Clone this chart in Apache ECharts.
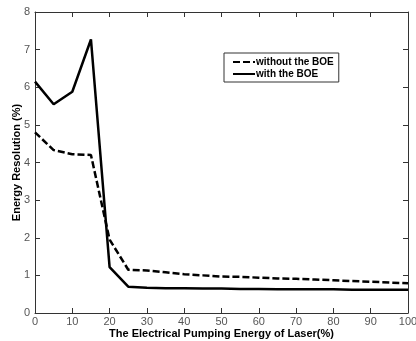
<!DOCTYPE html>
<html>
<head>
<meta charset="utf-8">
<script src="https://cdn.jsdelivr.net/npm/echarts@6/dist/echarts.min.js"></script>
<style>
  html, body { margin: 0; padding: 0; background: #fff; }
  #chart { width: 416px; height: 341px; }
</style>
</head>
<body>
<div id="chart"></div>
<script>
const energy = [0, 5, 10, 15, 20, 25, 30, 35, 40, 45, 50, 55, 60, 65, 70, 75, 80, 85, 90, 95, 100];
const withoutBOE = [4.8, 4.33, 4.22, 4.2, 1.95, 1.15, 1.13, 1.08, 1.03, 1.0, 0.97, 0.96, 0.94, 0.92, 0.91, 0.89, 0.87, 0.85, 0.83, 0.81, 0.79];
const withBOE = [6.15, 5.55, 5.88, 7.27, 1.22, 0.7, 0.67, 0.66, 0.66, 0.65, 0.65, 0.64, 0.64, 0.63, 0.63, 0.63, 0.63, 0.62, 0.62, 0.62, 0.62];
const seriesNames = ["without the BOE", "with the BOE"];

const chart = echarts.init(document.getElementById("chart"));
const font = "Liberation Sans, Arial, sans-serif";

function frameAxis(extra) {
  return Object.assign({
    axisLine: { show: true, onZero: false, lineStyle: { color: "#333", width: 1 } },
    axisTick: { show: true, inside: true, length: 5, lineStyle: { color: "#333" } },
    splitLine: { show: false },
  }, extra);
}

chart.setOption({
  animation: false,
  grid: { left: 35, top: 12, right: 8, bottom: 28, containLabel: false, outerBoundsMode: "none" },
  legend: {
    orient: "vertical",
    left: 224,
    top: 53,
    padding: [4, 5, 3, 8],
    itemGap: 2,
    itemWidth: 22,
    itemHeight: 10,
    borderColor: "#333",
    borderWidth: 1,
    backgroundColor: "#fff",
    itemStyle: { opacity: 0 },
    textStyle: { fontFamily: font, fontWeight: "bold", fontSize: 10, color: "#000", padding: [0, 0, 0, -4] },
    data: seriesNames,
  },
  xAxis: [
    frameAxis({
      type: "value",
      position: "bottom",
      min: 0,
      max: 100,
      interval: 10,
      axisLabel: { color: "#555", fontFamily: font, fontSize: 11, margin: 3 },
      name: "The Electrical Pumping Energy of Laser(%)",
      nameLocation: "middle",
      nameGap: 15,
      nameMoveOverlap: false,
      nameTextStyle: { fontFamily: font, fontWeight: "bold", fontSize: 11, color: "#000" },
    }),
    frameAxis({
      type: "value",
      position: "top",
      min: 0,
      max: 100,
      interval: 10,
      axisLabel: { show: false },
    }),
  ],
  yAxis: [
    frameAxis({
      type: "value",
      position: "left",
      min: 0,
      max: 8,
      interval: 1,
      axisLabel: { color: "#555", fontFamily: font, fontSize: 11, margin: 5 },
      name: "Energy Resolution (%)",
      nameLocation: "middle",
      nameGap: 13,
      nameMoveOverlap: false,
      nameTextStyle: { fontFamily: font, fontWeight: "bold", fontSize: 11, color: "#000" },
    }),
    frameAxis({
      type: "value",
      position: "right",
      min: 0,
      max: 8,
      interval: 1,
      axisLabel: { show: false },
    }),
  ],
  series: [
    {
      name: seriesNames[0],
      type: "line",
      data: energy.map((x, i) => [x, withoutBOE[i]]),
      symbol: "none",
      lineStyle: { color: "#000", width: 2.5, type: [7, 3] },
      itemStyle: { color: "#000" },
    },
    {
      name: seriesNames[1],
      type: "line",
      data: energy.map((x, i) => [x, withBOE[i]]),
      symbol: "none",
      lineStyle: { color: "#000", width: 2.5 },
      itemStyle: { color: "#000" },
    },
  ],
});
</script>
</body>
</html>
